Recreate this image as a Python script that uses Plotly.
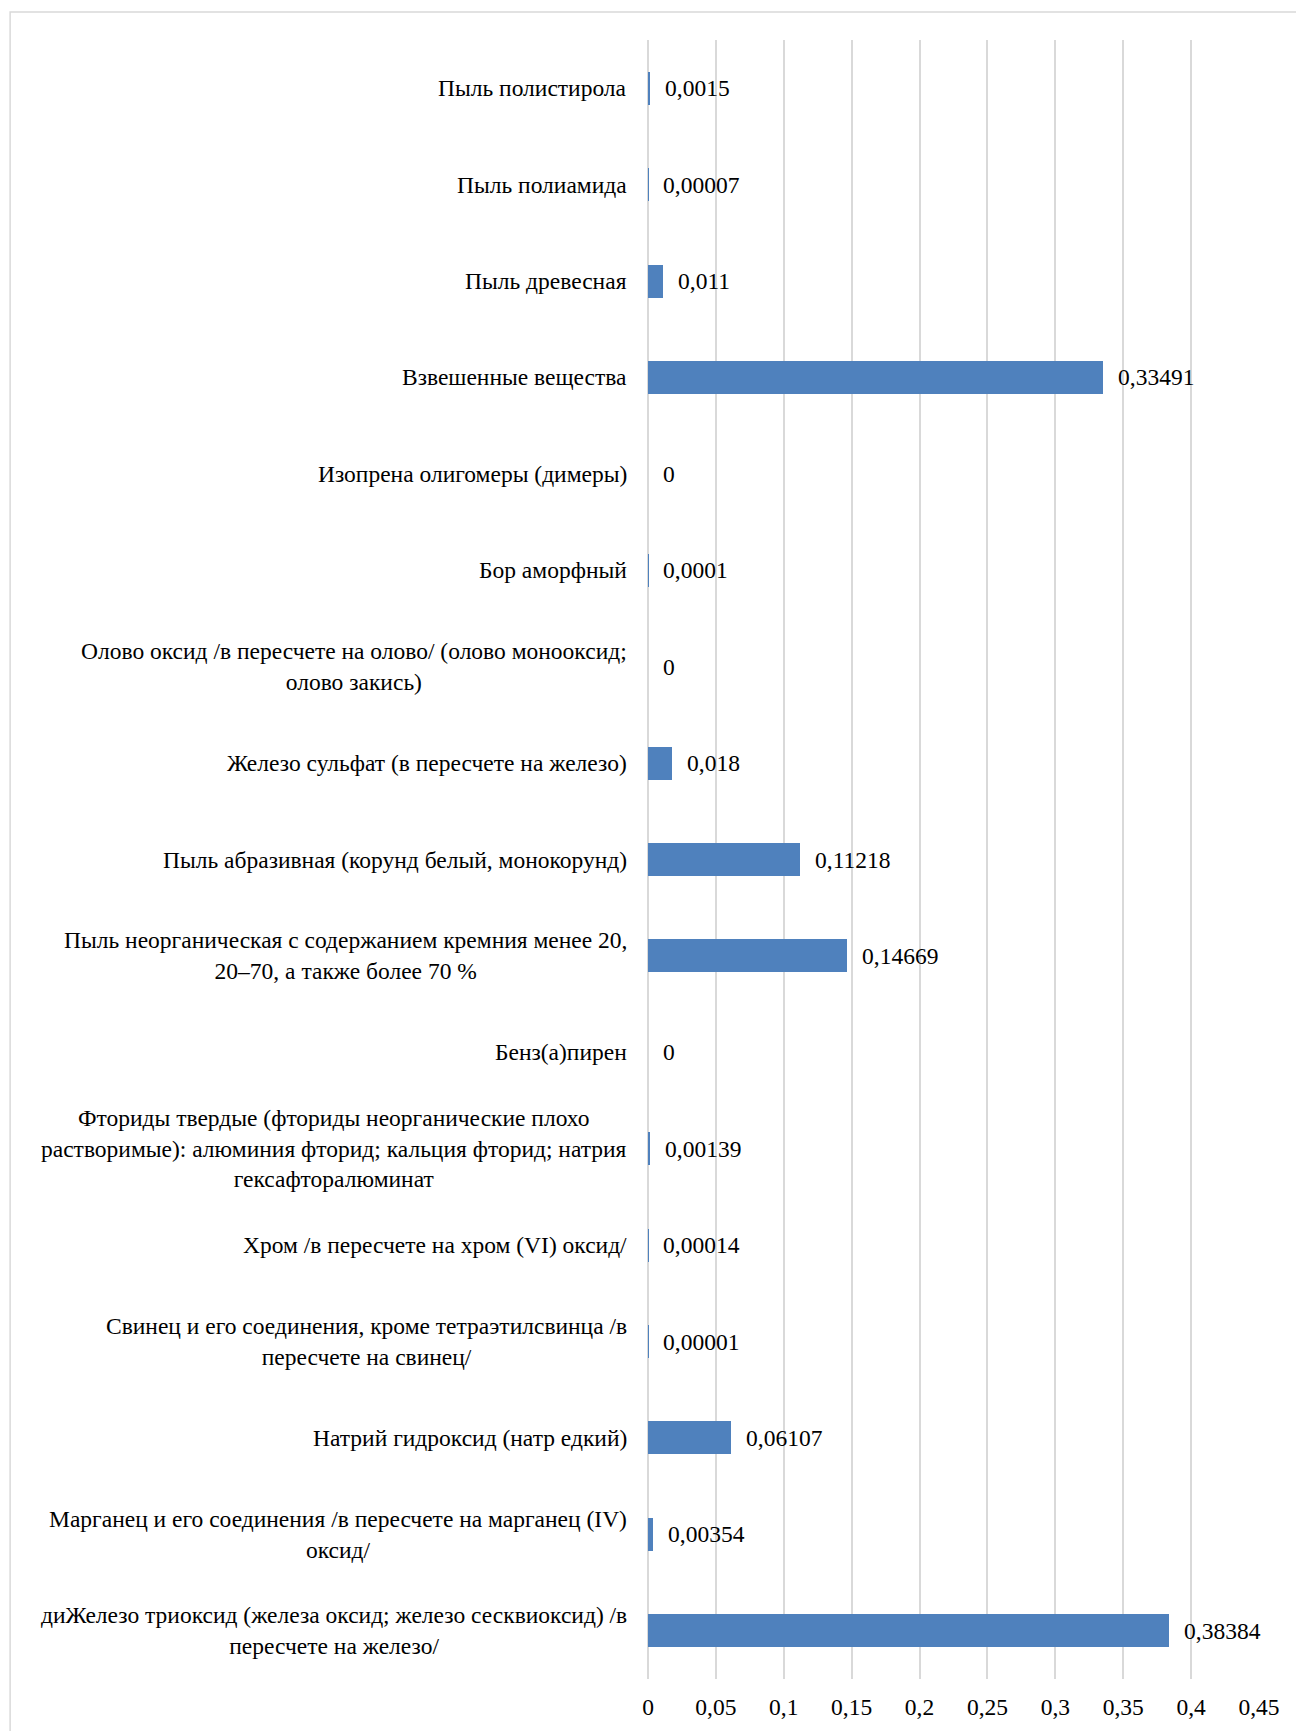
import numpy as np
import plotly.graph_objects as go

# Substances, listed top to bottom as they appear on the chart
categories = [
    "Пыль полистирола",
    "Пыль полиамида",
    "Пыль древесная",
    "Взвешенные вещества",
    "Изопрена олигомеры (димеры)",
    "Бор аморфный",
    "Олово оксид /в пересчете на олово/ (олово монооксид;<br>олово закись)",
    "Железо сульфат (в пересчете на железо)",
    "Пыль абразивная (корунд белый, монокорунд)",
    "Пыль неорганическая с содержанием кремния менее 20,<br>20–70, а также более 70 %",
    "Бенз(а)пирен",
    "Фториды твердые (фториды неорганические плохо<br>растворимые): алюминия фторид; кальция фторид; натрия<br>гексафторалюминат",
    "Хром /в пересчете на хром (VI) оксид/",
    "Свинец и его соединения, кроме тетраэтилсвинца /в<br>пересчете на свинец/",
    "Натрий гидроксид (натр едкий)",
    "Марганец и его соединения /в пересчете на марганец (IV)<br>оксид/",
    "диЖелезо триоксид (железа оксид; железо сесквиоксид) /в<br>пересчете на железо/",
]
values = [
    0.0015, 0.00007, 0.011, 0.33491, 0, 0.0001, 0, 0.018, 0.11218,
    0.14669, 0, 0.00139, 0.00014, 0.00001, 0.06107, 0.00354, 0.38384,
]
x_ticks = [0, 0.05, 0.1, 0.15, 0.2, 0.25, 0.3, 0.35, 0.4, 0.45]


def fmt(v):
    s = np.format_float_positional(v, trim="-")
    return s.replace(".", ",")


ids = [f"c{i}" for i in range(len(categories))]
FONT = "Liberation Serif, Times New Roman, serif"
BAR = "#4F81BD"
GRID = "#D9D9D9"

fig = go.Figure(
    go.Bar(
        x=values,
        y=ids,
        orientation="h",
        marker=dict(color=BAR, line=dict(width=0)),
        width=0.342,
        hoverinfo="skip",
    )
)

annotations = []
# value labels right of each bar
for cid, v in zip(ids, values):
    annotations.append(dict(
        x=v, y=cid, xref="x", yref="y", text=fmt(v), showarrow=False,
        xanchor="left", yanchor="middle", xshift=13,
        font=dict(family=FONT, size=23.5, color="#000000"),
    ))
# category labels, centred line by line, right edge near the axis
for cid, name in zip(ids, categories):
    annotations.append(dict(
        x=0, y=cid, xref="paper", yref="y", text=name, showarrow=False,
        xanchor="right", yanchor="middle", align="center", xshift=-19,
        font=dict(family=FONT, size=23.5, color="#000000"),
    ))

fig.update_layout(
    width=1296,
    height=1731,
    margin=dict(l=648, r=37, t=40, b=52, autoexpand=False),
    paper_bgcolor="#FFFFFF",
    plot_bgcolor="#FFFFFF",
    separators=", ",
    showlegend=False,
    bargap=0,
    annotations=annotations,
    shapes=[dict(
        type="rect", xref="paper", yref="paper",
        x0=-1.044, x1=1.2, y0=-0.1, y1=1.0171,
        line=dict(color=GRID, width=1.5), fillcolor="rgba(0,0,0,0)", layer="below",
    )],
    xaxis=dict(
        range=[0, 0.45],
        tickvals=x_ticks,
        ticktext=[fmt(t) for t in x_ticks],
        showgrid=True, gridcolor=GRID, gridwidth=1.5,
        zeroline=True, zerolinecolor=GRID, zerolinewidth=1.5,
        showline=False, ticks="", ticklabelstandoff=11,
        tickfont=dict(family=FONT, size=23.5, color="#000000"),
        fixedrange=True,
    ),
    yaxis=dict(
        categoryorder="array", categoryarray=ids,
        autorange="reversed",
        showticklabels=False, showgrid=False, zeroline=False, showline=False,
        ticks="", fixedrange=True,
    ),
)

fig.write_html("out.html")
